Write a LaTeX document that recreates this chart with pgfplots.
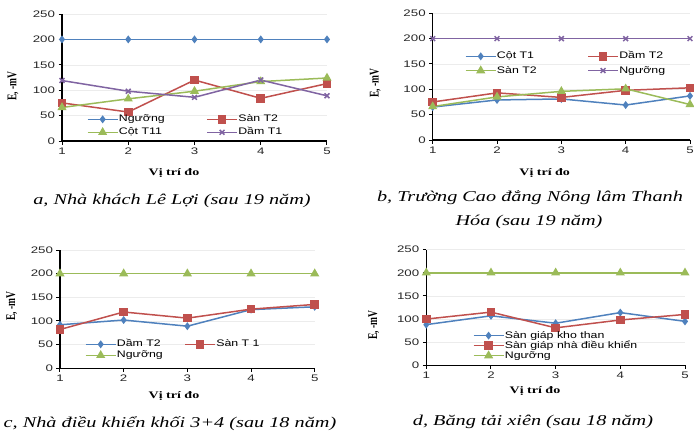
\documentclass[border=0pt]{standalone}
\usepackage{graphicx}
\usepackage{pgfplots}
\pgfplotsset{compat=1.18}
\usepackage{fontspec}
\setmainfont{Liberation Serif}
\newfontfamily\tickfont[FakeStretch=1.4]{Liberation Sans}
\newfontfamily\legfont[FakeStretch=1.3]{Liberation Sans}
\newfontfamily\capfont[FakeStretch=1.35]{Liberation Serif}
\newfontfamily\labfont[FakeStretch=1.4]{Liberation Serif}
\definecolor{cblue}{HTML}{4F81BD}
\definecolor{cred}{HTML}{C0504D}
\definecolor{cgreen}{HTML}{9BBB59}
\definecolor{cpurple}{HTML}{8064A2}
\pgfplotsset{
  panel/.style={
    scale only axis, anchor=south west,
    xmin=1, xmax=5, ymin=0, ymax=250,
    xtick={1,2,3,4,5}, ytick={0,50,100,150,200,250},
    axis x line*=bottom, axis y line*=left,
    axis line style={-, black, line width=1.4pt},
    tick align=outside, major tick length=3.5pt,
    every tick/.style={black, line width=1pt},
    ymajorgrids, grid style={gray!15, line width=0.6pt},
    clip=false,
    /pgf/number format/assume math mode=true,
    tick label style={font=\tickfont\fontsize{9.5}{10}\selectfont, text=black!85},
    legend style={draw=none, fill=none, inner sep=0pt, outer sep=0pt, anchor=north west,
      font=\legfont\fontsize{9.5}{10}\selectfont,
      nodes={inner sep=0.5pt, text height=7pt, text depth=2pt, anchor=west}},
    legend image code/.code={\draw[mark repeat=2,mark phase=2] plot coordinates {(0pt,0pt) (15pt,0pt) (30pt,0pt)};},
  },
  sb/.style={cblue, line width=1.5pt, mark=diamond*, mark size=2.8pt},
  sr/.style={cred, line width=1.5pt, mark=square*, mark size=3.5pt},
  sg/.style={cgreen, line width=1.5pt, mark=triangle*, mark size=3.8pt},
  sp/.style={cpurple, line width=1.5pt, mark=x, mark size=3.4pt},
}
\newcommand{\xlab}{\labfont\bfseries\fontsize{10}{11}\selectfont V\d{i} trí đo}
\newcommand{\ylab}{\scalebox{1}[1.4]{\rmfamily\bfseries\fontsize{9.5}{10}\selectfont E, -mV}}
\newcommand{\capf}{\capfont\itshape\fontsize{15}{16}\selectfont}
\begin{document}
\begin{tikzpicture}
\useasboundingbox (0,0) rectangle (694pt,432pt);
% ---------- a ----------
\begin{axis}[panel, at={(62pt,291pt)}, width=265pt, height=127pt,
  legend columns=2,
  legend style={at={(0.094,0.21)}, row sep=3pt, /tikz/column 2/.style={column sep=41pt}}]
\addplot[sb] coordinates {(1,200)(2,200)(3,200)(4,200)(5,200)};
\addlegendentry{Ngưỡng}
\addplot[sr] coordinates {(1,75)(2,57)(3,120)(4,84)(5,113)};
\addlegendentry{Sàn T2}
\addplot[sg] coordinates {(1,66)(2,83)(3,98)(4,117)(5,124)};
\addlegendentry{Cột T11}
\addplot[sp] coordinates {(1,119)(2,98)(3,86)(4,120)(5,89)};
\addlegendentry{Dầm T1}
\end{axis}
% ---------- b ----------
\begin{axis}[panel, at={(432.7pt,292pt)}, width=257.3pt, height=126.7pt,
  legend columns=2,
  legend style={at={(0.1255,0.70)}, row sep=4.3pt, /tikz/column 2/.style={column sep=50pt}}]
\addplot[sb] coordinates {(1,65)(2,79)(3,81)(4,69)(5,87)};
\addlegendentry{Cột T1}
\addplot[sr] coordinates {(1,75)(2,93)(3,84)(4,98)(5,103)};
\addlegendentry{Dầm T2}
\addplot[sg] coordinates {(1,66)(2,85)(3,96)(4,101)(5,70)};
\addlegendentry{Sàn T2}
\addplot[sp] coordinates {(1,200)(2,200)(3,200)(4,200)(5,200)};
\addlegendentry{Ngưỡng}
\end{axis}
% ---------- c ----------
\begin{axis}[panel, at={(60pt,63.7pt)}, width=254.7pt, height=118.3pt,
  legend columns=2,
  legend style={at={(0.098,0.245)}, row sep=1pt, /tikz/column 2/.style={column sep=21pt}}]
\addplot[sb] coordinates {(1,92)(2,102)(3,89)(4,124)(5,130)};
\addlegendentry{Dầm T2}
\addplot[sr] coordinates {(1,82)(2,119)(3,106)(4,125)(5,135)};
\addlegendentry{Sàn T 1}
\addplot[sg] coordinates {(1,200)(2,200)(3,200)(4,200)(5,200)};
\addlegendentry{Ngưỡng}
\end{axis}
% ---------- d ----------
\begin{axis}[panel, at={(426.3pt,66.7pt)}, width=258.7pt, height=115.6pt,
  legend columns=1,
  legend style={at={(0.18,0.30)}, row sep=0pt}]
\addplot[sb] coordinates {(1,88)(2,107)(3,91)(4,114)(5,95)};
\addlegendentry{Sàn giáp kho than}
\addplot[sr] coordinates {(1,100)(2,115)(3,81)(4,98)(5,110)};
\addlegendentry{Sàn giáp nhà điều khiển}
\addplot[sg] coordinates {(1,200)(2,200)(3,200)(4,200)(5,200)};
\addlegendentry{Ngưỡng}
\end{axis}
% ---------- labels ----------
\node at (174pt,259.3pt) {\xlab};
\node at (544.7pt,259.3pt) {\xlab};
\node at (174pt,36pt) {\xlab};
\node at (535pt,41pt) {\xlab};
\node[rotate=90] at (13pt,346pt) {\ylab};
\node[rotate=90] at (375.3pt,349pt) {\ylab};
\node[rotate=90] at (11.7pt,126pt) {\ylab};
\node[rotate=90] at (373.7pt,107pt) {\ylab};
% ---------- captions ----------
\node at (172pt,231pt) {\capf a, Nhà khách Lê Lợi (sau 19 năm)};
\node at (530pt,234pt) {\capf b, Trường Cao đẳng Nông lâm Thanh};
\node at (529pt,210pt) {\capf Hóa (sau 19 năm)};
\node at (170pt,8pt) {\capf c, Nhà điều khiển khối 3+4 (sau 18 năm)};
\node at (533pt,10pt) {\capf d, Băng tải xiên (sau 18 năm)};
\end{tikzpicture}
\end{document}
